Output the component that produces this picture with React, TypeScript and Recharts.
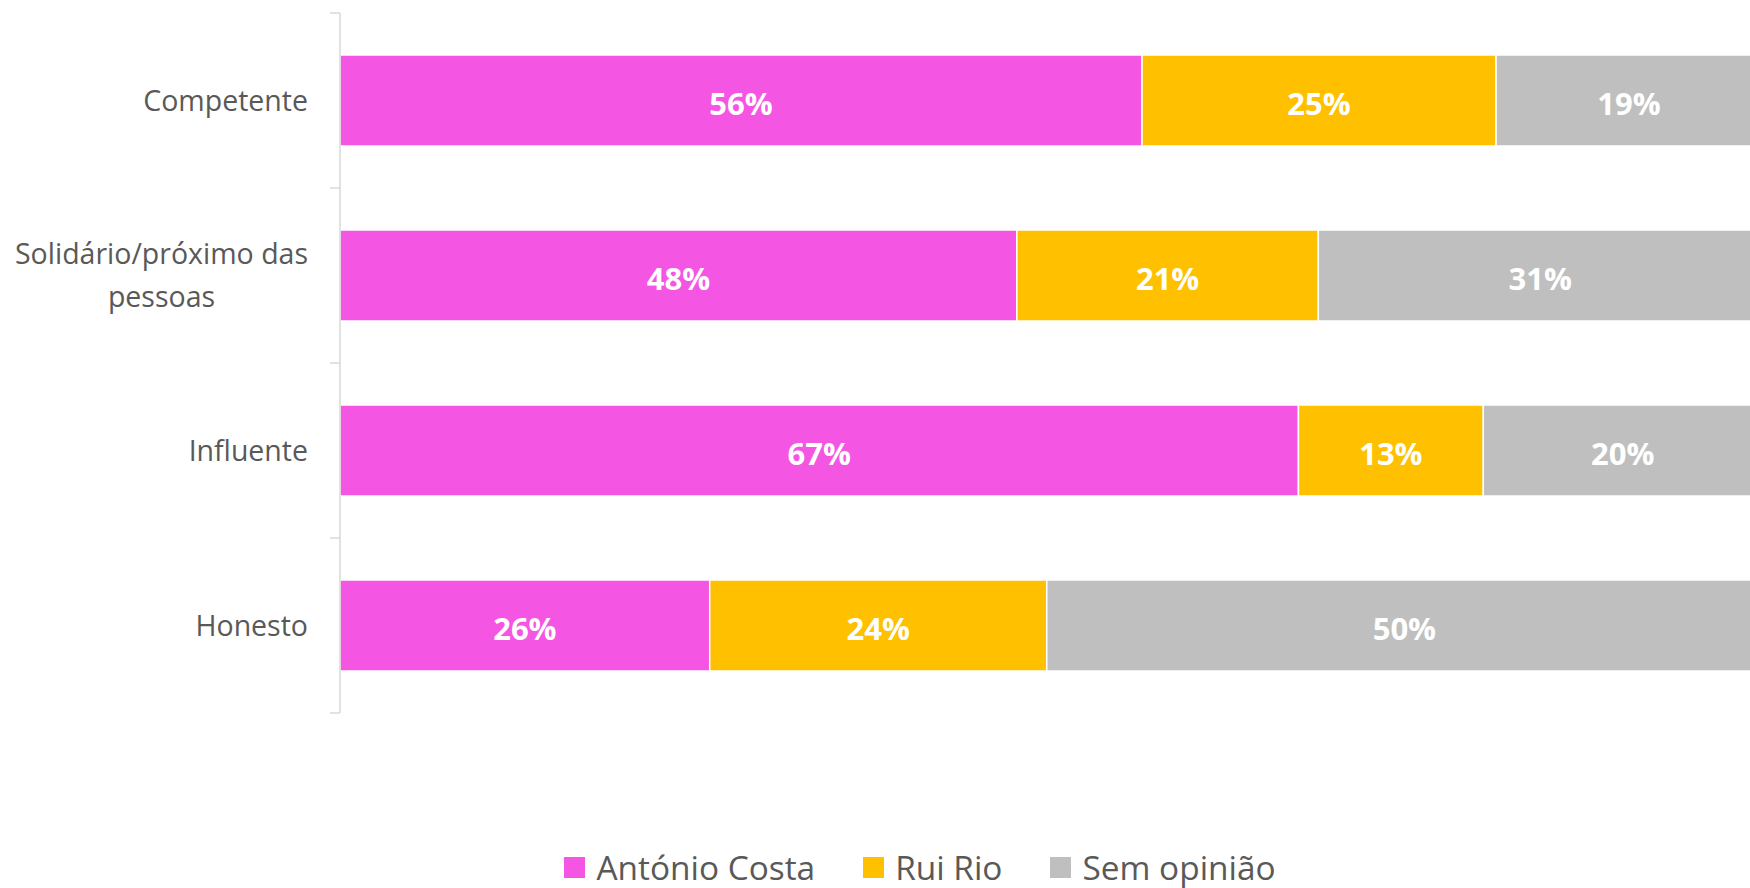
import { Bar, BarChart, LabelList, Legend, XAxis, YAxis } from "recharts";

// values (labels show the rounded figure)
const categories = ["Competente", "Solidário/próximo das pessoas", "Influente", "Honesto"];
const antonioCosta = [56.4, 47.6, 67.4, 26.0];
const ruiRio = [24.9, 21.2, 13.0, 23.7];
const semOpiniao = [18.7, 31.2, 19.6, 50.3];

const seriesKeys = ["costa", "rio", "sem"];
const seriesNames = ["António Costa", "Rui Rio", "Sem opinião"];
const seriesColors = ["#F455E3", "#FFC000", "#BFBFBF"];

const data = categories.map((name, i) => ({
  name,
  costa: antonioCosta[i],
  rio: ruiRio[i],
  sem: semOpiniao[i],
}));

const FONT = '"Open Sans", sans-serif';
const TICK_FONT_SIZE = 28.5;
const TEXT_GREY = "#595959";
const AXIS_GREY = "#d9d9d9";
const TICK_MARGIN = 32;
const CHART_H = 888;
const MARGIN = { top: 13, right: 0, left: 0, bottom: 135 };
const LEGEND_H = 40;

let measureCtx: CanvasRenderingContext2D | null = null;
function textWidth(text: string) {
  if (!measureCtx) measureCtx = document.createElement("canvas").getContext("2d");
  if (!measureCtx) return text.length * TICK_FONT_SIZE * 0.5;
  measureCtx.font = `${TICK_FONT_SIZE}px "Open Sans"`;
  return measureCtx.measureText(text).width;
}

function wrap(text: string, maxWidth: number) {
  const words = text.split(" ");
  const lines: string[] = [];
  let line = "";
  for (const w of words) {
    const next = line ? `${line} ${w}` : w;
    if (line && textWidth(next) > maxWidth) {
      lines.push(line);
      line = w;
    } else {
      line = next;
    }
  }
  if (line) lines.push(line);
  return lines;
}

// category label + the small boundary ticks between categories (Excel style)
function CategoryTick(props: any) {
  const { x, y, payload, index, visibleTicksCount } = props;
  const plotH = CHART_H - MARGIN.top - MARGIN.bottom - LEGEND_H;
  const half = payload?.offset || plotH / categories.length / 2;
  const axisX = x + TICK_MARGIN;
  const lines = wrap(String(payload.value), 320);
  const lineHeight = 43;
  const blockWidth = Math.max(...lines.map(textWidth));
  const single = lines.length === 1;
  const isLast = index === (visibleTicksCount ?? categories.length) - 1;

  return (
    <g>
      <line x1={axisX - 10} x2={axisX} y1={y - half} y2={y - half} stroke={AXIS_GREY} strokeWidth={1.5} />
      {isLast && (
        <line x1={axisX - 10} x2={axisX} y1={y + half} y2={y + half} stroke={AXIS_GREY} strokeWidth={1.5} />
      )}
      {lines.map((line, i) => (
        <text
          key={i}
          x={single ? x : x - blockWidth / 2}
          y={y + (i - (lines.length - 1) / 2) * lineHeight}
          dy="0.355em"
          textAnchor={single ? "end" : "middle"}
          fill={TEXT_GREY}
          fontFamily={FONT}
          fontSize={TICK_FONT_SIZE}
        >
          {line}
        </text>
      ))}
    </g>
  );
}

function LegendContent(props: any) {
  const items = props.payload ?? [];
  return (
    <div style={{ display: "flex", justifyContent: "center", alignItems: "center", height: LEGEND_H, gap: 48 }}>
      {items.map((item: any) => (
        <div key={item.value} style={{ display: "flex", alignItems: "center" }}>
          <span style={{ width: 21, height: 21, background: item.color, marginRight: 11, display: "inline-block" }} />
          <span style={{ fontFamily: FONT, fontSize: 33.4, color: TEXT_GREY, lineHeight: "40px" }}>{item.value}</span>
        </div>
      ))}
    </div>
  );
}

const pct = (v: any) => `${Math.round(Number(v))}%`;

export default function App() {
  return (
    <div
      style={{
        position: "fixed",
        left: 0,
        top: 0,
        width: 1750,
        height: 888,
        overflow: "hidden",
        background: "#fff",
      }}
    >
      <BarChart
        width={1762}
        height={CHART_H}
        data={data}
        layout="vertical"
        barCategoryGap="24%"
        margin={MARGIN}
      >
        <XAxis type="number" domain={[0, 100]} hide />
        <YAxis
          dataKey="name"
          type="category"
          width={340}
          axisLine={{ stroke: AXIS_GREY, strokeWidth: 1.5 }}
          tickLine={false}
          tickSize={0}
          tickMargin={TICK_MARGIN}
          interval={0}
          tick={<CategoryTick />}
        />
        {seriesKeys.map((key, i) => (
          <Bar
            key={key}
            dataKey={key}
            name={seriesNames[i]}
            stackId="a"
            fill={seriesColors[i]}
            stroke="#fff"
            strokeWidth={1.5}
            isAnimationActive={false}
          >
            <LabelList
              dataKey={key}
              position="center"
              formatter={pct}
              fill="#fff"
              fontFamily={FONT}
              fontWeight={700}
              fontSize={31}
              dy={3}
            />
          </Bar>
        ))}
        <Legend
          verticalAlign="bottom"
          content={<LegendContent />}
          wrapperStyle={{ left: 0, top: 847, width: 1840 }}
        />
      </BarChart>
    </div>
  );
}
